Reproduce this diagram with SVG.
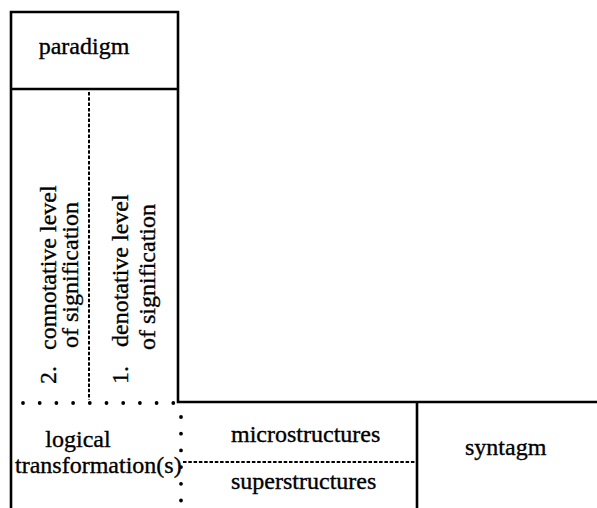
<svg xmlns="http://www.w3.org/2000/svg" width="597" height="508" viewBox="0 0 597 508">
<style>
text{font-family:"Liberation Serif","Times New Roman",serif;font-size:24px;fill:#000;stroke:#000;stroke-width:0.35}
.solid{stroke:#000;stroke-width:2.6;fill:none}
.dash{stroke:#000;stroke-width:2;stroke-dasharray:3.5 1.8;fill:none}
.dots{stroke:#000;stroke-width:3.8;stroke-linecap:round;stroke-dasharray:0 16.7;fill:none}
</style>
<rect width="597" height="508" fill="#fff"/>
<g id="connectors">
<path class="solid" d="M11,508 V12 H178 V402 H597"/>
<path class="solid" d="M11,89 H178"/>
<path class="solid" d="M417,402 V508"/>
<path class="dash" d="M89,92 V400"/>
<path class="dash" d="M183,462 H416"/>
<path class="dots" d="M23,403 H178"/>
<path class="dots" d="M181,417 V508"/>
</g>
<g id="paradigm"><text x="84" y="54" text-anchor="middle">paradigm</text></g>
<g id="connotative">
<text transform="translate(56,384) rotate(-90)">2.</text>
<text transform="translate(56,350) rotate(-90)">connotative level</text>
<text transform="translate(78,348) rotate(-90)">of signification</text>
</g>
<g id="denotative">
<text transform="translate(128,384) rotate(-90)">1.</text>
<text transform="translate(128,347) rotate(-90)">denotative level</text>
<text transform="translate(155,350) rotate(-90)">of signification</text>
</g>
<g id="logical">
<text x="78" y="447" text-anchor="middle">logical</text>
<text x="15" y="473">transformation(s)</text>
</g>
<g id="microstructures"><text x="231" y="442">microstructures</text></g>
<g id="superstructures"><text x="231" y="489">superstructures</text></g>
<g id="syntagm"><text x="465" y="455">syntagm</text></g>
</svg>
